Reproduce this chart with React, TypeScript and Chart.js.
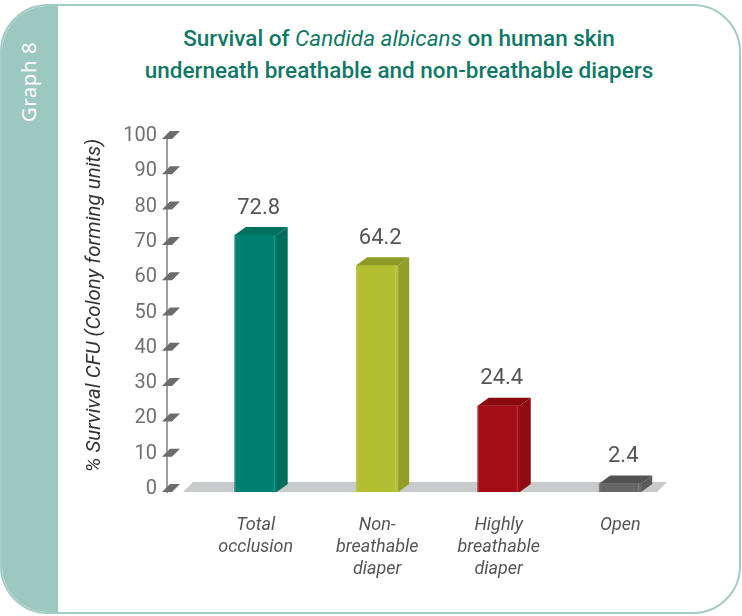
import React, { useEffect, useRef } from "react";
import { Chart, registerables } from "chart.js";

Chart.register(...registerables);

// ---- data ----
const categories: string[][] = [
  ["Total", "occlusion"],
  ["Non-", "breathable", "diaper"],
  ["Highly", "breathable", "diaper"],
  ["Open"],
];
const survival: number[] = [72.8, 64.2, 24.4, 2.4];
const yTickMin = 0;
const yTickMax = 100;
const yTickStep = 10;
const yTitle = "% Survival CFU (Colony forming units)";

// ---- styles ----
const frontColors = ["#008070", "#b3be33", "#a40d16", "#666666"];
const topColors = ["#00715f", "#8e9a26", "#8a0a10", "#535353"];
const sideColors = ["#006e5d", "#939d29", "#8f0b12", "#5a5a5a"];
const FONT = "Roboto, 'Noto Sans', sans-serif";

const threeD = {
  id: "threeD",
  beforeDatasetsDraw(chart: any) {
    const { ctx, chartArea, scales } = chart;
    const y = scales.y;
    const y0 = y.getPixelForValue(0);
    ctx.save();
    // floor
    ctx.fillStyle = "#c9cacb";
    ctx.beginPath();
    ctx.moveTo(chartArea.left + 16, y0);
    ctx.lineTo(chartArea.right - 24, y0);
    ctx.lineTo(chartArea.right - 14, y0 - 10);
    ctx.lineTo(chartArea.left + 26, y0 - 10);
    ctx.closePath();
    ctx.fill();
    // tick marks
    const L = chartArea.left;
    y.ticks.forEach((t: any) => {
      const py = y.getPixelForValue(t.value) - 4;
      ctx.fillStyle = "#6c6c6c";
      ctx.beginPath();
      ctx.moveTo(L - 5, py + 4);
      ctx.lineTo(L + 5, py + 4);
      ctx.lineTo(L + 13, py - 4);
      ctx.lineTo(L + 3, py - 4);
      ctx.closePath();
      ctx.fill();
    });
    // y axis title
    ctx.translate(L - 72, (chartArea.top + chartArea.bottom) / 2 - 10);
    ctx.rotate(-Math.PI / 2);
    ctx.fillStyle = "#333333";
    ctx.font = `italic 20.5px ${FONT}`;
    ctx.textAlign = "center";
    ctx.textBaseline = "middle";
    ctx.fillText(yTitle, 0, 0);
    ctx.restore();
  },
  afterDatasetsDraw(chart: any) {
    const { ctx } = chart;
    const meta = chart.getDatasetMeta(0);
    const dx = 11;
    const dy = 8;
    ctx.save();
    meta.data.forEach((bar: any, i: number) => {
      const { x, y, base, width } = bar.getProps(["x", "y", "base", "width"], true);
      const l = x - width / 2;
      const r = x + width / 2;
      // top face
      ctx.fillStyle = topColors[i];
      ctx.beginPath();
      ctx.moveTo(l, y);
      ctx.lineTo(r, y);
      ctx.lineTo(r + dx, y - dy);
      ctx.lineTo(l + dx, y - dy);
      ctx.closePath();
      ctx.fill();
      // side face
      ctx.fillStyle = sideColors[i];
      ctx.beginPath();
      ctx.moveTo(r, y);
      ctx.lineTo(r + dx, y - dy);
      ctx.lineTo(r + dx, base - dy);
      ctx.lineTo(r, base);
      ctx.closePath();
      ctx.fill();
      // highlight edge
      ctx.fillStyle = "rgba(255,255,255,0.18)";
      ctx.fillRect(r - 3, y, 1, base - y);
      ctx.fillRect(l, y, 1, base - y);
      // value label
      ctx.fillStyle = "#555555";
      ctx.font = `22px ${FONT}`;
      ctx.textAlign = "center";
      ctx.textBaseline = "middle";
      ctx.fillText(String(survival[i]), x + 3, y - 27);
    });
    ctx.restore();
  },
};

export default function App() {
  const ref = useRef<HTMLCanvasElement | null>(null);

  useEffect(() => {
    if (!ref.current) return;
    const chart = new Chart(ref.current, {
      type: "bar",
      data: {
        datasets: [
          {
            data: survival.map((v, i) => ({ x: i, y: v })),
            backgroundColor: frontColors,
            borderWidth: 0,
            barThickness: 42,
          },
        ],
      },
      options: {
        responsive: false,
        animation: false,
        devicePixelRatio: 1,
        layout: { padding: { left: 60, right: 61, top: 139, bottom: 0 } },
        plugins: {
          legend: { display: false },
          tooltip: { enabled: false },
          title: { display: false },
        },
        scales: {
          x: {
            type: "linear",
            offset: false,
            min: -0.73,
            max: 3.5,
            grid: { display: false, offset: false },
            border: { display: false },
            afterBuildTicks: (s: any) => {
              s.ticks = categories.map((_, i) => ({ value: i }));
            },
            afterFit: (s: any) => {
              s.height = 124;
            },
            ticks: {
              autoSkip: false,
              maxRotation: 0,
              minRotation: 0,
              padding: 15,
              color: "#555555",
              font: { family: FONT, size: 18, style: "italic", lineHeight: 1.22 },
              callback: (v: any) => categories[v] ?? "",
            },
          },
          y: {
            min: yTickMin,
            max: yTickMax,
            grid: { display: false, drawTicks: false },
            border: { display: true, color: "#a0a0a0", width: 2 },
            afterFit: (s: any) => {
              s.width = 107;
            },
            ticks: {
              stepSize: yTickStep,
              padding: 10,
              labelOffset: -3,
              color: "#707070",
              font: { family: FONT, size: 20 },
            },
            title: { display: false },
          },
        },
      },
      plugins: [threeD],
    });
    return () => chart.destroy();
  }, []);

  return (
    <div style={{ position: "absolute", left: 0, top: 0, width: 742, height: 616, background: "#fff" }}>
      <div
        style={{
          position: "absolute",
          left: 0,
          top: 4,
          width: 741,
          height: 610,
          boxSizing: "border-box",
          border: "2px solid #a2ccc4",
          borderRadius: 48,
          overflow: "hidden",
          background: "#fff",
        }}
      >
        <div style={{ position: "absolute", left: 0, top: 0, bottom: 0, width: 56, background: "#9dc8bf" }} />
      </div>
      <div
        style={{
          position: "absolute",
          left: 28,
          top: 82,
          transform: "translate(-50%, -50%) rotate(-90deg)",
          color: "#ffffff",
          fontFamily: "'Noto Sans', sans-serif",
          fontSize: 20.5,
          letterSpacing: 0.5,
          whiteSpace: "nowrap",
        }}
      >
        Graph 8
      </div>
      <div
        style={{
          position: "absolute",
          left: 58,
          width: 682,
          top: 22,
          textAlign: "center",
          color: "#117866",
          fontFamily: FONT,
          fontWeight: 500,
          fontSize: 22.5,
          lineHeight: "32px",
        }}
      >
        <div>
          Survival of <i style={{ fontWeight: 400 }}>Candida albicans</i> on human skin
        </div>
        <div>underneath breathable and non-breathable diapers</div>
      </div>
      <canvas ref={ref} width={742} height={616} style={{ position: "absolute", left: 0, top: 0, width: 742, height: 616 }} />
    </div>
  );
}
